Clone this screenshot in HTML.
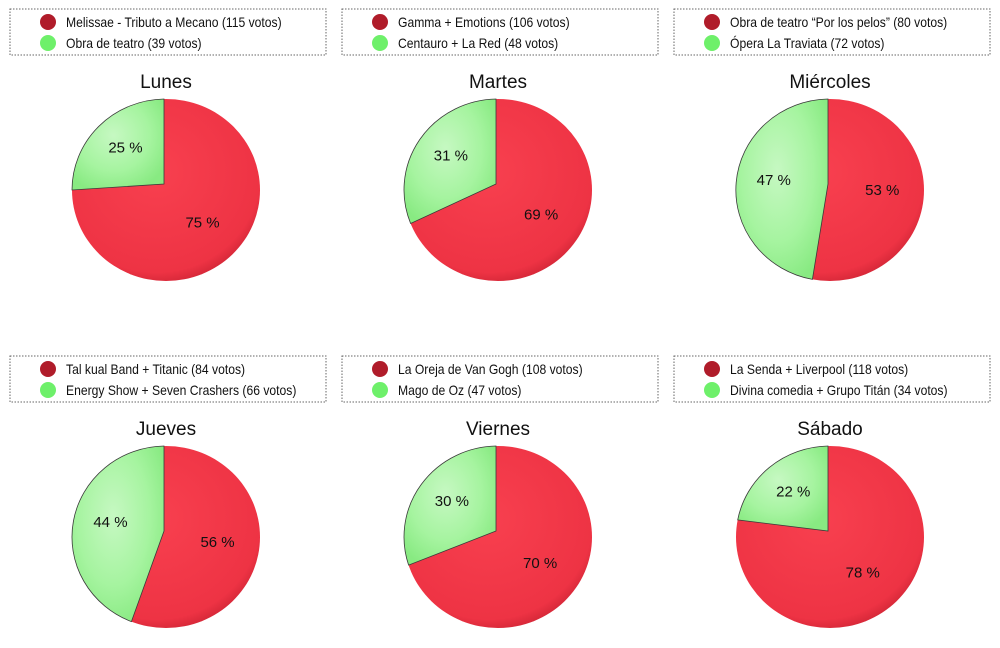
<!DOCTYPE html>
<html><head><meta charset="utf-8"><style>
body{margin:0;background:#fff;width:1000px;height:643px;overflow:hidden;font-family:"Liberation Sans",sans-serif}
</style></head><body>
<svg id="s" width="1000" height="643" xmlns="http://www.w3.org/2000/svg">
<defs>
<radialGradient id="rg" cx="45%" cy="40%" r="65%"><stop offset="0" stop-color="#f8404f"/><stop offset="0.85" stop-color="#ee3344"/><stop offset="1" stop-color="#c92232"/></radialGradient>
<radialGradient id="gg" cx="45%" cy="40%" r="65%"><stop offset="0" stop-color="#c6f8c2"/><stop offset="0.6" stop-color="#a6f4a0"/><stop offset="1" stop-color="#88ea82"/></radialGradient>
</defs>
</svg>
<script>
var d=[
["Lunes","Melissae - Tributo a Mecano (115 votos)","Obra de teatro (39 votos)",25],
["Martes","Gamma + Emotions (106 votos)","Centauro + La Red (48 votos)",31],
["Miércoles","Obra de teatro “Por los pelos” (80 votos)","Ópera La Traviata (72 votos)",47],
["Jueves","Tal kual Band + Titanic  (84 votos)","Energy Show + Seven Crashers (66 votos)",44],
["Viernes","La Oreja de Van Gogh (108 votos)","Mago de Oz (47 votos)",30],
["Sábado","La Senda + Liverpool  (118 votos)","Divina comedia + Grupo Titán (34 votos)",22]];
var h="";
d.forEach(function(e,i){
 var col=i%3,row=Math.floor(i/3);
 var ox=col*332,oy=row*347;
 var bx=10+ox,by=9+oy;
 h+='<rect x="'+bx+'" y="'+by+'" width="316" height="46" fill="#fff" stroke="#666" stroke-dasharray="1.5,1.5"/>';
 h+='<circle cx="'+(bx+38)+'" cy="'+(by+13)+'" r="8" fill="#b01c2a"/>';
 h+='<circle cx="'+(bx+38)+'" cy="'+(by+34)+'" r="8" fill="#6ef06a"/>';
 var s='font-size="13.5" fill="#111" transform="translate('+(bx+56)+',0) scale(0.9,1)"';
 h+='<text x="0" y="'+(by+18)+'" '+s+'>'+e[1]+'</text>';
 h+='<text x="0" y="'+(by+39)+'" '+s+'>'+e[2]+'</text>';
 var cx=166+ox,cy=190+oy,rx=94,ry=91;
 h+='<text x="'+cx+'" y="'+(88+oy)+'" font-size="19" text-anchor="middle" fill="#111">'+e[0]+'</text>';
 var p=e[3]/100,pc=164+ox,pcy=184+oy;
 var a2=-Math.PI/2-2*Math.PI*p;
 var x2=cx+rx*Math.cos(a2),y2=cy+ry*Math.sin(a2);
 h+='<ellipse cx="'+cx+'" cy="'+cy+'" rx="'+rx+'" ry="'+ry+'" fill="url(#rg)"/>';
 h+='<path d="M'+pc+','+pcy+' L'+pc+','+(cy-ry)+' A'+rx+','+ry+' 0 '+(p>0.5?1:0)+' 0 '+x2.toFixed(1)+','+y2.toFixed(1)+' Z" fill="url(#gg)" stroke="#3a3a3a" stroke-width="0.8"/>';
 var m=-Math.PI/2-Math.PI*p,m2=-Math.PI/2+Math.PI*(1-p);
 h+='<text x="'+(pc+rx*0.58*Math.cos(m))+'" y="'+(pcy+ry*0.58*Math.sin(m)+6)+'" font-size="15" text-anchor="middle" fill="#111">'+e[3]+' %</text>';
 h+='<text x="'+(pc+rx*0.58*Math.cos(m2))+'" y="'+(pcy+ry*0.58*Math.sin(m2)+6)+'" font-size="15" text-anchor="middle" fill="#111">'+(100-e[3])+' %</text>';
});
document.getElementById("s").insertAdjacentHTML("beforeend",h);
</script>
</body></html>
